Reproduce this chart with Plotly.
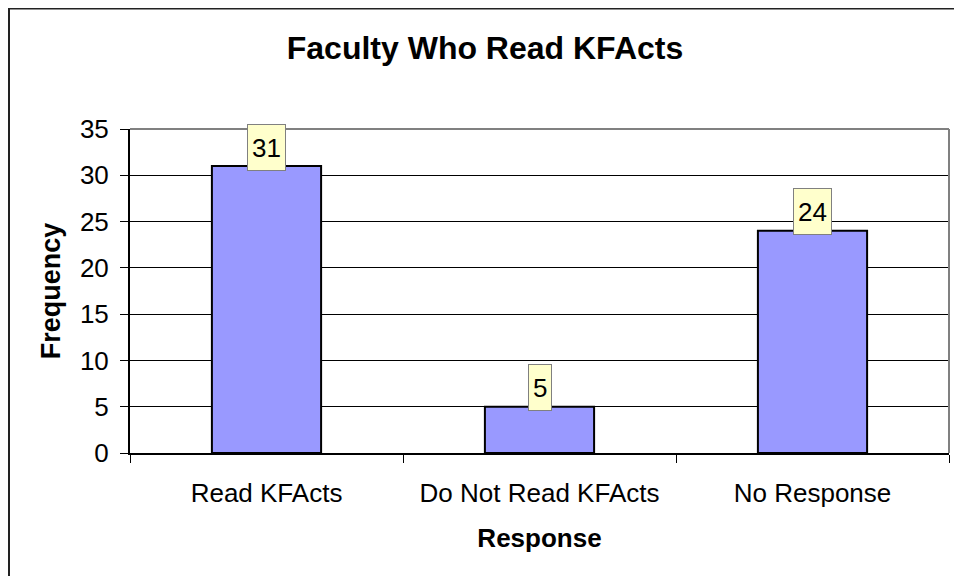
import plotly.graph_objects as go

categories = ["Read KFActs", "Do Not Read KFActs", "No Response"]
frequency = [31, 5, 24]
y_ticks = [0, 5, 10, 15, 20, 25, 30, 35]

FONT = "Arial, Liberation Sans, sans-serif"

fig = go.Figure()
fig.add_trace(go.Bar(
    x=categories, y=frequency, width=0.4,
    marker=dict(color="#9999FF", line=dict(color="#000000", width=2)),
    hoverinfo="x+y",
))

for c, v in zip(categories, frequency):
    fig.add_annotation(
        x=c, y=v, text=str(v), showarrow=False, yshift=19,
        font=dict(family=FONT, size=26, color="#000000"),
        bgcolor="#FFFFCC", bordercolor="#808080", borderwidth=1,
        borderpad=4, height=37,
    )

fig.update_layout(
    width=954, height=568,
    margin=dict(l=122, r=13, t=121, b=123),
    paper_bgcolor="#FFFFFF", plot_bgcolor="#FFFFFF",
    showlegend=False,
    font=dict(family=FONT, color="#000000"),
    title=dict(
        text="<b>Faculty Who Read KFActs</b>",
        x=0.5, xref="container", xanchor="center",
        y=1 - 40 / 568, yref="container", yanchor="middle",
        font=dict(family=FONT, size=32, color="#000000"),
    ),
    xaxis=dict(
        type="category",
        showgrid=False,
        showline=True, linecolor="#000000", linewidth=2,
        ticks="outside", ticklen=8, tickcolor="#000000", tickwidth=1,
        tickson="boundaries",
        tickfont=dict(family=FONT, size=26, color="#000000"),
        ticklabelstandoff=16,
        title=dict(text="<b>Response</b>", font=dict(family=FONT, size=26, color="#000000"), standoff=22),
    ),
    yaxis=dict(
        range=[0, 35],
        tickvals=y_ticks,
        showgrid=True, gridcolor="#000000", gridwidth=1,
        showline=True, linecolor="#000000", linewidth=2,
        ticks="outside", ticklen=8, tickcolor="#000000", tickwidth=1,
        tickfont=dict(family=FONT, size=26, color="#000000"),
        ticklabelstandoff=6,
        zeroline=False,
        title=dict(text="<b>Frequency</b>", font=dict(family=FONT, size=27, color="#000000"), standoff=11),
    ),
    shapes=[
        dict(type="line", xref="paper", yref="paper", x0=0, x1=1, y0=1, y1=1,
             line=dict(color="#808080", width=2), layer="above"),
        dict(type="line", xref="paper", yref="paper", x0=1, x1=1, y0=0, y1=1,
             line=dict(color="#808080", width=2), layer="above"),
        dict(type="rect", xref="paper", yref="paper",
             xsizemode="pixel", xanchor=0, x0=-121, x1=2000,
             ysizemode="pixel", yanchor=1, y0=-1000, y1=120.5,
             line=dict(color="#222222", width=2), fillcolor="rgba(0,0,0,0)", layer="above"),
    ],
)

fig.write_html("out.html")
